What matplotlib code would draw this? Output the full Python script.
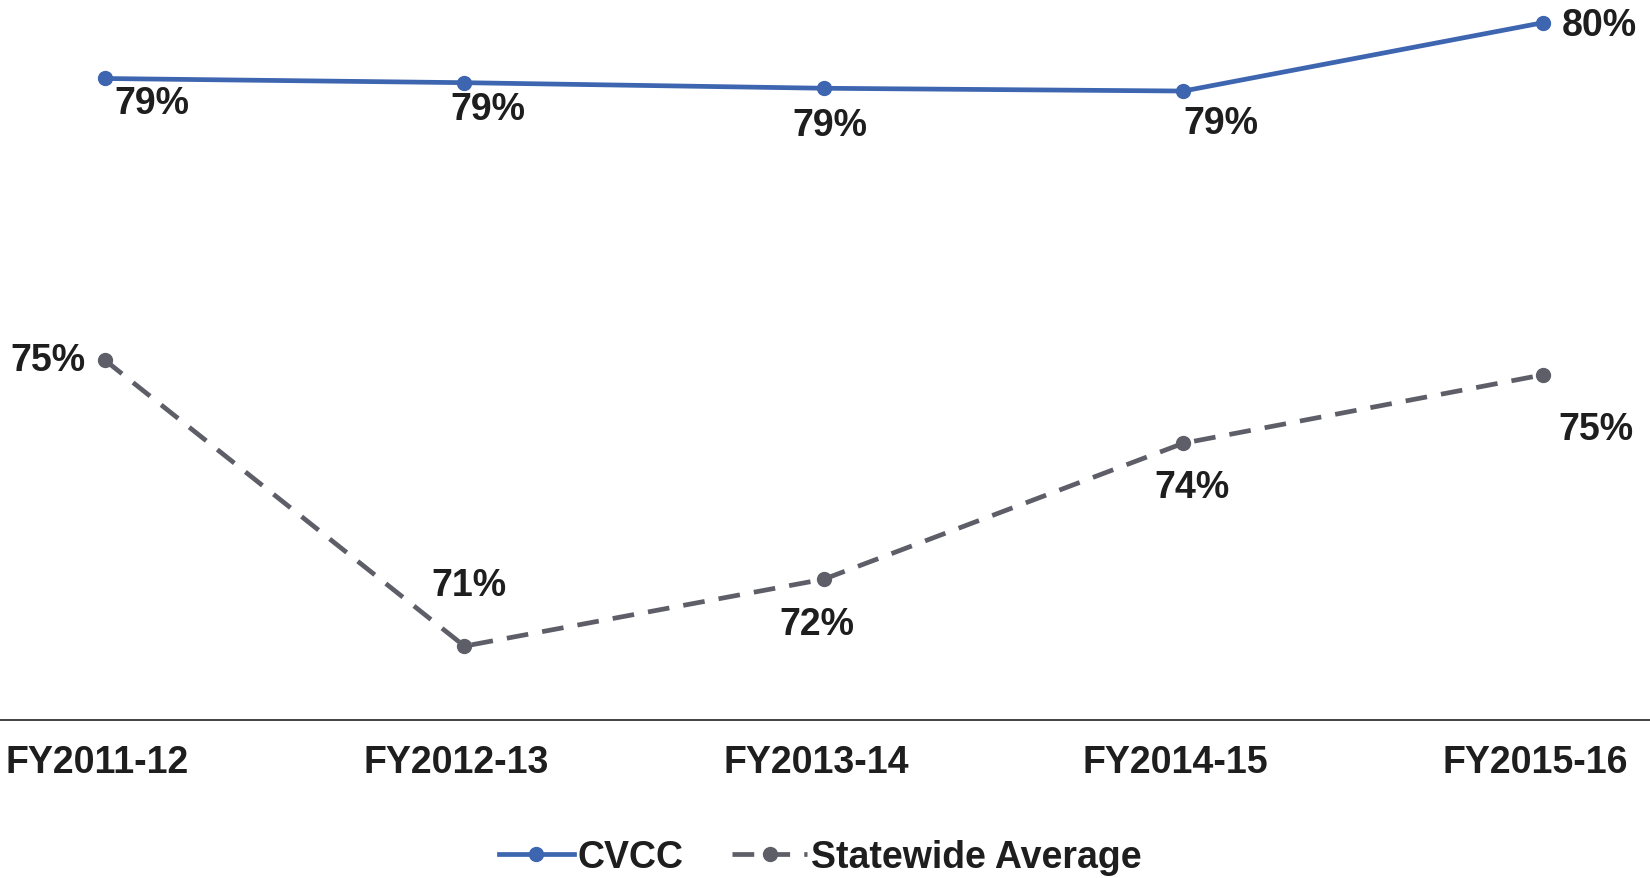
import matplotlib
matplotlib.use('Agg')
import matplotlib.pyplot as plt
import matplotlib.transforms as mtransforms

plt.rcParams['font.family'] = ['Liberation Sans', 'DejaVu Sans']
plt.rcParams['font.weight'] = 'bold'

years = ['FY2011-12', 'FY2012-13', 'FY2013-14', 'FY2014-15', 'FY2015-16']
cvcc = [79.2, 79.14, 79.06, 79.02, 80.0]
statewide = [75.16, 71.06, 72.02, 73.97, 74.95]
cvcc_labels = ['79%', '79%', '79%', '79%', '80%']
state_labels = ['75%', '71%', '72%', '74%', '75%']

# label offsets in pixels (x right, y up)
cvcc_off = [(47, -25), (23, -26), (6, -37), (37, -32), (56, -2)]
state_off = [(-57, 0), (4, 61), (-7, -45), (9, -44), (53, -54)]

blue = '#3d65b0'
gray = '#5e5e68'
txt = '#1e1e1e'

fig = plt.figure(figsize=(16.5, 8.79), dpi=100)
ax = fig.add_axes([0, 0.1797, 1, 0.8203])

x = list(range(len(years)))
ax.plot(x, cvcc, color=blue, lw=3.4, marker='o', ms=10, label='CVCC', clip_on=False)
ax.plot(x, statewide, color=gray, lw=3.4, marker='o', ms=10, dashes=(4.6, 3),
        label='Statewide Average', clip_on=False)

for i in x:
    ax.annotate(cvcc_labels[i], (i, cvcc[i]), xytext=cvcc_off[i], textcoords='offset pixels',
                ha='center', va='center', fontsize=27, fontweight='bold', color=txt)
    ax.annotate(state_labels[i], (i, statewide[i]), xytext=state_off[i], textcoords='offset pixels',
                ha='center', va='center', fontsize=27, fontweight='bold', color=txt)

ax.set_xlim(-0.292, 4.298)
ax.set_ylim(70, 80.34)
ax.set_xticks(x)
ax.set_xticklabels(years, fontsize=27, fontweight='bold', color=txt)
ax.tick_params(axis='x', length=0, pad=17)
shift = mtransforms.ScaledTranslation(-0.08, 0, fig.dpi_scale_trans)
for lbl in ax.get_xticklabels():
    lbl.set_transform(lbl.get_transform() + shift)
ax.set_yticks([])
for s in ['top', 'left', 'right']:
    ax.spines[s].set_visible(False)
ax.spines['bottom'].set_color('#333333')
ax.spines['bottom'].set_linewidth(1.3)

fig.legend(loc='center', bbox_to_anchor=(0.497, 0.024), ncol=2, frameon=False,
           prop={'size': 27, 'weight': 'bold'}, handlelength=2.0, columnspacing=1.3,
           handletextpad=0.1, labelcolor=txt)

fig.savefig('out.png', dpi=100, facecolor='white')
